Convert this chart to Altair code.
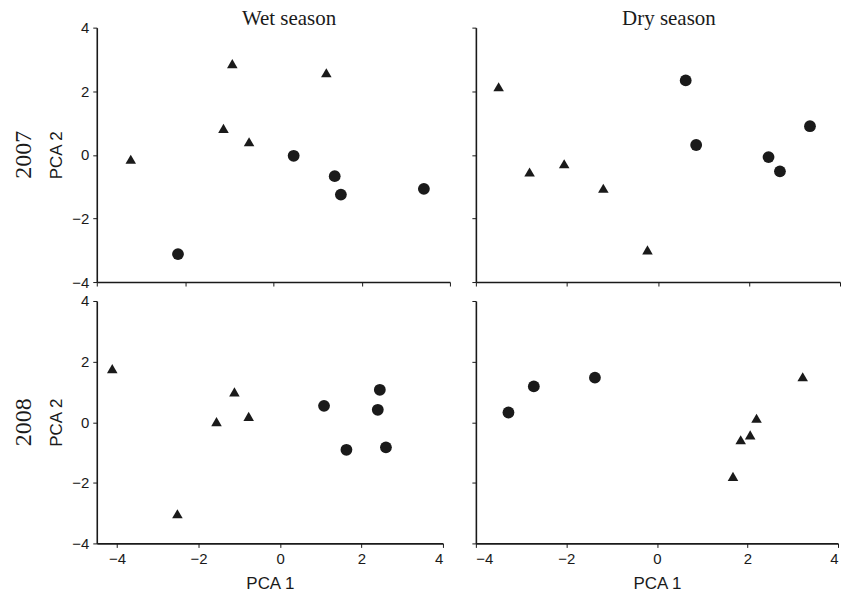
import altair as alt
import pandas as pd

GROUPS = ["A", "B"]  # A = triangles, B = circles

# Wet season 2007
wet07_x = [-3.23, -0.93, -1.13, -0.55, 1.20, -2.16, 0.46, 1.39, 1.53, 3.41]
wet07_y = [-0.14, 2.87, 0.83, 0.41, 2.58, -3.12, -0.03, -0.67, -1.25, -1.07]
wet07_g = ["A", "A", "A", "A", "A", "B", "B", "B", "B", "B"]

# Dry season 2007
dry07_x = [-3.50, -2.82, -2.06, -1.20, -0.23, 0.61, 0.84, 2.43, 2.68, 3.34]
dry07_y = [2.14, -0.54, -0.28, -1.05, -2.99, 2.34, 0.31, -0.07, -0.52, 0.90]
dry07_g = ["A", "A", "A", "A", "A", "B", "B", "B", "B", "B"]

# Wet season 2008
wet08_x = [-4.12, -2.52, -1.56, -1.12, -0.77, 1.08, 1.63, 2.40, 2.45, 2.60]
wet08_y = [1.77, -3.02, 0.02, 1.00, 0.19, 0.54, -0.91, 0.41, 1.07, -0.83]
wet08_g = ["A", "A", "A", "A", "A", "B", "B", "B", "B", "B"]

# Dry season 2008
dry08_x = [-3.28, -2.72, -1.37, 1.68, 1.85, 2.06, 2.20, 3.22]
dry08_y = [0.32, 1.18, 1.47, -1.79, -0.58, -0.42, 0.13, 1.50]
dry08_g = ["B", "B", "B", "A", "A", "A", "A", "A"]

TICKS = [-4, -2, 0, 2, 4]
INK = "#1a1a1a"


def panel(xs, ys, gs, xdom, w, h, xlabels, ylabels, left_title=None):
    df = pd.DataFrame({"x": xs, "y": ys, "g": gs})
    xaxis = alt.Axis(values=TICKS, labels=xlabels, title="PCA 1" if xlabels else None,
                     grid=False, tickSize=4, labelPadding=4, titlePadding=9)
    yaxis = alt.Axis(values=TICKS, labels=ylabels, title="PCA 2" if ylabels else None,
                     grid=False, tickSize=4, labelPadding=4, titlePadding=6)
    props = dict(width=w, height=h)
    if left_title:
        props["title"] = alt.TitleParams(left_title, orient="left", anchor="middle",
                                         frame="group", font="Liberation Serif",
                                         fontSize=24, fontWeight="normal", color=INK,
                                         offset=12)
    return alt.Chart(df).mark_point(filled=True, opacity=1, color=INK).encode(
        x=alt.X("x:Q", scale=alt.Scale(domain=xdom, nice=False, zero=False), axis=xaxis),
        y=alt.Y("y:Q", scale=alt.Scale(domain=[-4, 4], nice=False, zero=False), axis=yaxis),
        shape=alt.Shape("g:N", scale=alt.Scale(domain=GROUPS, range=["triangle-up", "circle"]),
                        legend=None),
        size=alt.Size("g:O", scale=alt.Scale(domain=GROUPS, range=[112, 140]), legend=None),
    ).properties(**props)


tl = panel(wet07_x, wet07_y, wet07_g, [-4, 4], 354, 255, False, True, "2007")
bl = panel(wet08_x, wet08_y, wet08_g, [-4.5, 4], 347, 243, True, True, "2008")
tr = panel(dry07_x, dry07_y, dry07_g, [-4, 4], 365, 255, False, False)
br = panel(dry08_x, dry08_y, dry08_g, [-4, 4], 363, 243, True, False)


def col_title(text, dx, dy):
    return alt.TitleParams(text, font="Liberation Serif", fontSize=21, fontWeight="normal",
                           color=INK, anchor="middle", dx=dx, dy=dy, offset=2)


left = alt.vconcat(tl, bl, spacing=4, title=col_title("Wet season", 58, 10))
right = alt.vconcat(tr, br, spacing=13, title=col_title("Dry season", 13, 4))

chart = alt.hconcat(left, right, spacing=20).configure_view(stroke=None).configure_axis(
    domainColor=INK, domainWidth=1.6, tickColor=INK, tickWidth=1,
    labelFont="Liberation Sans", labelFontSize=15, labelColor=INK,
    titleFont="Liberation Sans", titleFontSize=17, titleFontWeight="normal", titleColor=INK,
).properties(background="white",
             padding={"left": 11, "top": 7, "right": 2, "bottom": 2})

chart.save("out.html", embed_options={"renderer": "svg", "actions": False})
